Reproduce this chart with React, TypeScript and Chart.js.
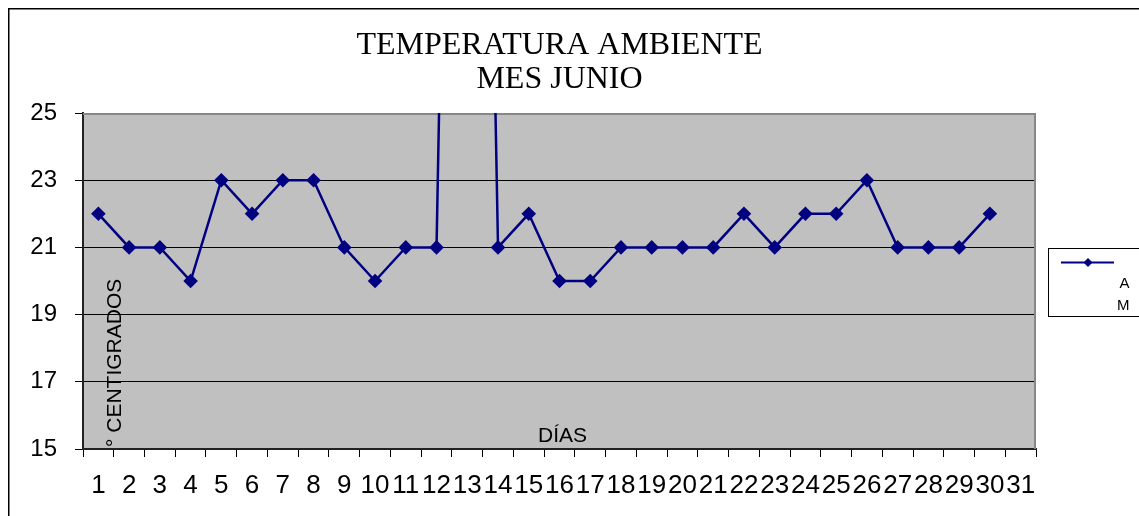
import React, { useEffect, useRef } from "react";
import { Chart, registerables } from "chart.js";

Chart.register(...registerables);

const days = ["1","2","3","4","5","6","7","8","9","10","11","12","13","14","15","16","17","18","19","20","21","22","23","24","25","26","27","28","29","30","31"];
const temps = [22,21,21,20,23,22,23,23,21,20,21,21,70,21,22,20,20,21,21,21,21,22,21,22,22,23,21,21,21,22,null];
const seriesName = "AM";
const titleLines = ["TEMPERATURA AMBIENTE", "MES JUNIO"];
const yTitle = "° CENTIGRADOS";
const xTitle = "DÍAS";

const SANS = "'Liberation Sans', Arial, sans-serif";
const SERIF = "'Liberation Serif', 'Times New Roman', serif";
const NAVY = "#000080";

const decor = {
  id: "decor",
  beforeDraw(chart: any) {
    const { ctx, chartArea: a } = chart;
    ctx.save();
    ctx.fillStyle = "#ffffff";
    ctx.fillRect(0, 0, chart.width, chart.height);
    ctx.strokeStyle = "#000";
    ctx.lineWidth = 1.5;
    ctx.beginPath();
    ctx.moveTo(0.75, chart.height + 5);
    ctx.lineTo(0.75, 0.75);
    ctx.lineTo(chart.width + 5, 0.75);
    ctx.stroke();
    ctx.fillStyle = "#C0C0C0";
    ctx.fillRect(a.left, a.top, a.right - a.left, a.bottom - a.top);
    ctx.restore();
  },
  beforeDatasetsDraw(chart: any) {
    const { ctx, chartArea: a } = chart;
    ctx.save();
    ctx.strokeStyle = "#878787";
    ctx.lineWidth = 2;
    ctx.beginPath();
    ctx.moveTo(a.left, a.top + 1);
    ctx.lineTo(a.right - 1, a.top + 1);
    ctx.lineTo(a.right - 1, a.bottom);
    ctx.stroke();
    ctx.restore();
  },
  afterDraw(chart: any) {
    const { ctx } = chart;
    ctx.save();
    ctx.fillStyle = "#000";
    ctx.font = `21px ${SANS}`;
    ctx.translate(113, 439);
    ctx.rotate(-Math.PI / 2);
    ctx.textAlign = "left";
    ctx.textBaseline = "alphabetic";
    ctx.fillText(yTitle, 0, 0);
    ctx.restore();

    ctx.save();
    ctx.fillStyle = "#000";
    ctx.font = `21px ${SANS}`;
    ctx.textAlign = "center";
    ctx.textBaseline = "alphabetic";
    ctx.fillText(xTitle, 554.5, 434);
    ctx.restore();

    const ds = chart.data.datasets[0];
    ctx.save();
    ctx.fillStyle = "#fff";
    ctx.strokeStyle = "#000";
    ctx.lineWidth = 1;
    ctx.fillRect(1040.5, 240.5, 100, 68);
    ctx.strokeRect(1040.5, 240.5, 100, 68);
    ctx.strokeStyle = ds.borderColor;
    ctx.lineWidth = 2.2;
    ctx.beginPath();
    ctx.moveTo(1053, 254.5);
    ctx.lineTo(1106, 254.5);
    ctx.stroke();
    ctx.fillStyle = ds.pointBackgroundColor;
    ctx.beginPath();
    ctx.moveTo(1080, 250);
    ctx.lineTo(1084.5, 254.5);
    ctx.lineTo(1080, 259);
    ctx.lineTo(1075.5, 254.5);
    ctx.closePath();
    ctx.fill();
    ctx.fillStyle = "#000";
    ctx.font = `15px ${SANS}`;
    ctx.textAlign = "right";
    ctx.textBaseline = "alphabetic";
    const chars = String(ds.label).split("");
    chars.forEach((c, i) => ctx.fillText(c, 1121.5, 279.5 + i * 22.7));
    ctx.restore();
  },
};

export default function App() {
  const ref = useRef<HTMLCanvasElement | null>(null);
  useEffect(() => {
    if (!ref.current) return;
    const chart = new Chart(ref.current, {
      type: "line",
      data: {
        labels: days,
        datasets: [
          {
            label: seriesName,
            data: temps,
            borderColor: NAVY,
            backgroundColor: NAVY,
            pointBackgroundColor: NAVY,
            pointBorderColor: NAVY,
            borderWidth: 2.5,
            pointStyle: "rectRot",
            pointRadius: 7.3,
            pointBorderWidth: 0,
            tension: 0,
            spanGaps: false,
            clip: 0,
          } as any,
        ],
      },
      options: {
        responsive: false,
        animation: false,
        devicePixelRatio: 1,
        layout: { padding: { left: 0, right: 103, top: 0, bottom: 0 } },
        plugins: {
          legend: { display: false },
          tooltip: { enabled: false },
          title: {
            display: true,
            text: titleLines,
            fullSize: false,
            color: "#000",
            font: { family: SERIF, size: 32, weight: "normal", lineHeight: 34 / 32 },
            padding: { top: 21, bottom: 16 },
          },
        },
        scales: {
          x: {
            type: "category",
            offset: true,
            grid: {
              offset: true,
              drawOnChartArea: false,
              drawTicks: true,
              tickLength: 8,
              color: "#000",
              lineWidth: 1,
            },
            border: { display: true, color: "#222", width: 2 },
            ticks: {
              autoSkip: false,
              maxRotation: 0,
              minRotation: 0,
              padding: 13,
              color: "#000",
              font: { family: SANS, size: 26 },
            },
            afterFit(scale: any) {
              scale.height = 67;
            },
          },
          y: {
            min: 15,
            max: 25,
            grid: {
              drawOnChartArea: true,
              drawTicks: true,
              tickLength: 8,
              color: "#000",
              lineWidth: 1,
            },
            border: { display: true, color: "#222", width: 2 },
            ticks: {
              stepSize: 2,
              padding: 18,
              color: "#000",
              font: { family: SANS, size: 24 },
            },
            afterFit(scale: any) {
              scale.width = 75;
            },
          },
        },
      },
      plugins: [decor],
    });
    return () => chart.destroy();
  }, []);

  return (
    <div style={{ position: "fixed", left: 8, top: 8, width: 1131, height: 508, overflow: "hidden" }}>
      <canvas ref={ref} width={1131} height={508} style={{ width: 1131, height: 508, display: "block" }} />
    </div>
  );
}
